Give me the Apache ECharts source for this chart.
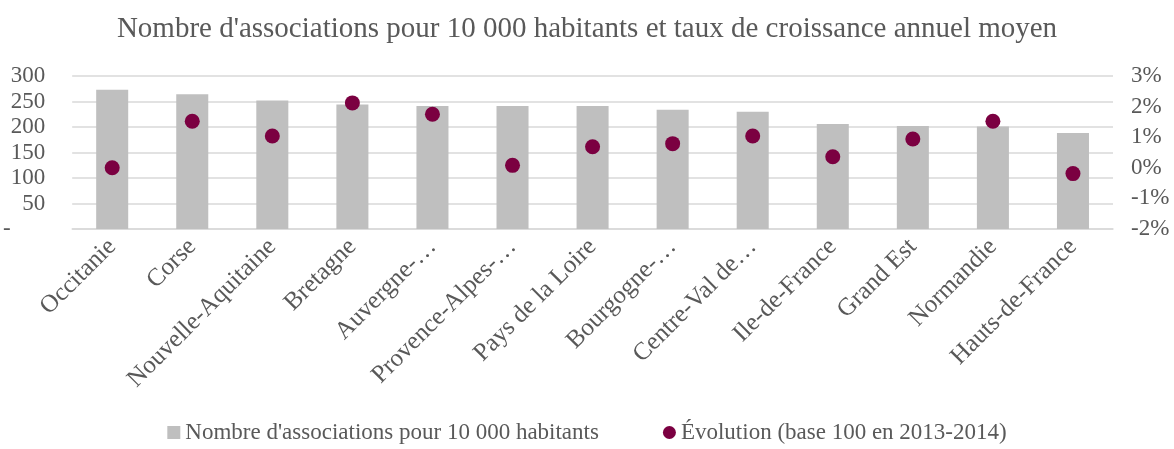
<!DOCTYPE html>
<html>
<head>
<meta charset="utf-8">
<script src="https://cdn.jsdelivr.net/npm/echarts@6/dist/echarts.min.js"></script>
<style>
	html, body { margin: 0; padding: 0; background: #ffffff; }
	#main { width: 1174px; height: 449px; }
</style>
</head>
<body>
<div id="main"></div>
<script>
	// régions (libellés tels qu'affichés, tronqués)
	var regions = ['Occitanie', 'Corse', 'Nouvelle-Aquitaine', 'Bretagne', 'Auvergne-…', 'Provence-Alpes-…',
		'Pays de la Loire', 'Bourgogne-…', 'Centre-Val de…', 'Ile-de-France', 'Grand Est', 'Normandie', 'Hauts-de-France'];
	// nombre d'associations pour 10 000 habitants
	var nbAssociations = [273, 264, 252, 244, 241, 241, 241, 234, 230, 206, 202, 201, 188];
	// taux de croissance annuel moyen, en %
	var evolution = [0.0, 1.52, 1.04, 2.12, 1.75, 0.08, 0.69, 0.79, 1.04, 0.36, 0.94, 1.52, -0.19];

	var txt = '#595959';
	var serif = '"Liberation Serif", "Times New Roman", serif';

	var chart = echarts.init(document.getElementById('main'));
	chart.setOption({
		backgroundColor: '#ffffff',
		textStyle: { fontFamily: serif, color: txt },
		title: {
			text: "Nombre d'associations pour 10 000 habitants et taux de croissance annuel moyen",
			left: 'center',
			top: 10,
			textStyle: { fontFamily: serif, fontSize: 29, fontWeight: 'normal', color: txt }
		},
		legend: {
			bottom: 0,
			left: 'center',
			itemGap: 64,
			itemWidth: 13,
			itemHeight: 13,
			textStyle: { fontFamily: serif, fontSize: 23, color: txt },
			data: [
				{ name: "Nombre d'associations pour 10 000 habitants", icon: 'rect' },
				{ name: 'Évolution (base 100 en 2013-2014)', icon: 'circle' }
			]
		},
		grid: { left: 72, right: 61, top: 76, bottom: 220 },
		xAxis: {
			type: 'category',
			data: regions,
			axisLine: { show: true, lineStyle: { color: '#d9d9d9', width: 1.5 } },
			axisTick: { show: false },
			axisLabel: { interval: 0, rotate: 45, fontFamily: serif, fontSize: 25, color: txt, margin: 14 }
		},
		yAxis: [{
			type: 'value',
			min: 0, max: 300, interval: 50,
			axisLine: { show: false },
			axisTick: { show: false },
			splitLine: { lineStyle: { color: '#d9d9d9', width: 1.5 } },
			axisLabel: {
				fontFamily: serif, fontSize: 23, color: txt, margin: 27,
				formatter: function (v) { return v === 0 ? '-      ' : v; }
			}
		}, {
			type: 'value',
			min: -2, max: 3, interval: 1,
			axisLine: { show: false },
			axisTick: { show: false },
			splitLine: { show: false },
			axisLabel: {
				fontFamily: serif, fontSize: 23, color: txt, margin: 18,
				formatter: function (v) { return v + '%'; }
			}
		}],
		series: [{
			name: "Nombre d'associations pour 10 000 habitants",
			type: 'bar',
			yAxisIndex: 0,
			barWidth: '40%',
			itemStyle: { color: '#bfbfbf' },
			data: nbAssociations
		}, {
			name: 'Évolution (base 100 en 2013-2014)',
			type: 'scatter',
			yAxisIndex: 1,
			symbol: 'circle',
			symbolSize: 15,
			itemStyle: { color: '#7b0041', opacity: 1 },
			data: evolution
		}]
	});
</script>
</body>
</html>
